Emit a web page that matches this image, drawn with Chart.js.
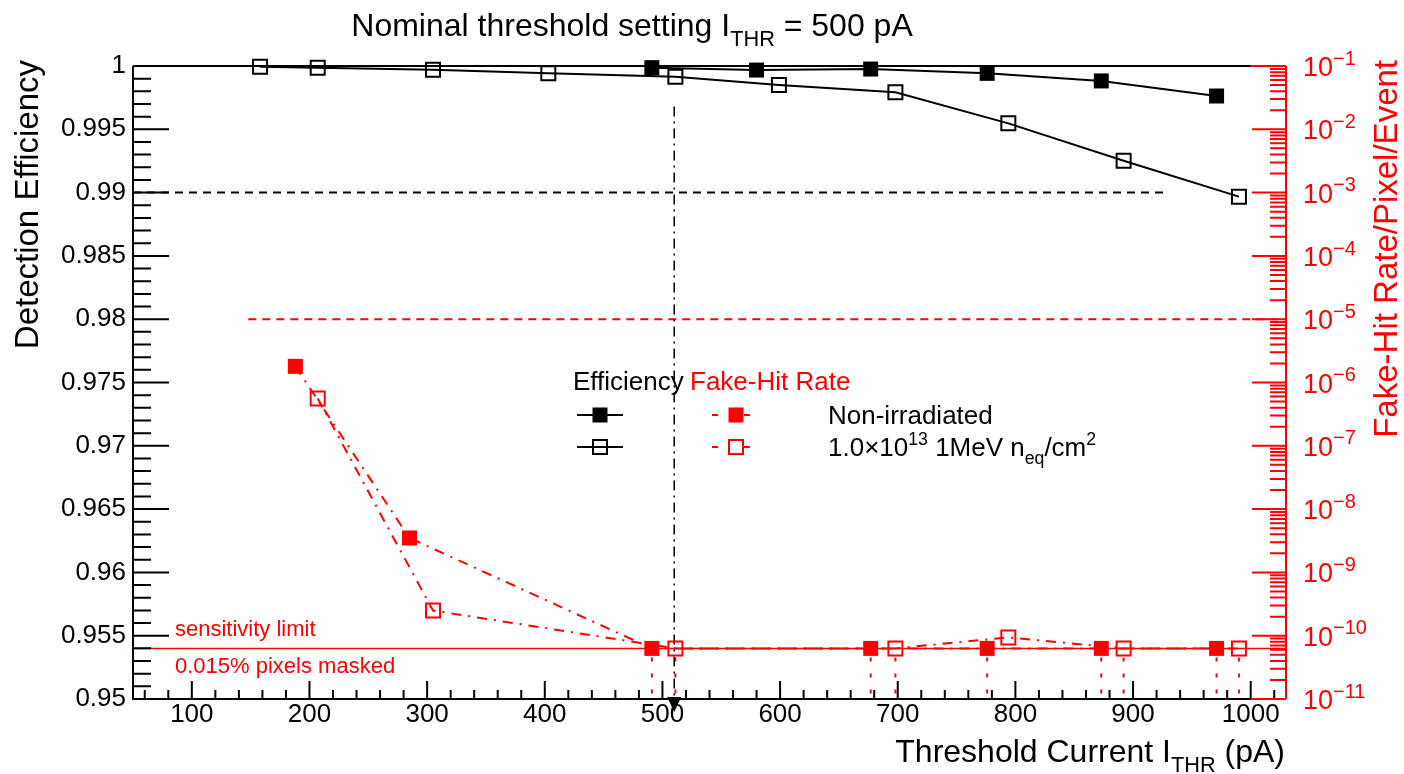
<!DOCTYPE html>
<html>
<head>
    <title>Detection efficiency and fake-hit rate vs threshold</title>
    <script src="https://cdn.jsdelivr.net/npm/chart.js@4.4.1/dist/chart.umd.min.js"></script>
    <style>
        body { margin: 0; background: #fff; }
        canvas { display: block; }
    </style>
</head>
<body>
    <canvas id="myChart" width="1404" height="774"></canvas>

    <script>
        // threshold current (pA) and values
        var effNonIrrX = [491, 580, 677, 776, 873, 971];
        var effNonIrr = [0.99987, 0.99968, 0.99976, 0.99942, 0.99882, 0.99763];

        var effIrrX = [158, 207, 305, 403, 511, 599, 698, 794, 892, 990];
        var effIrr = [0.99995, 0.99987, 0.9997, 0.99942, 0.99916, 0.9985, 0.99792, 0.99547, 0.99252, 0.98968];

        var fakeNonIrrX = [188, 285, 491, 677, 776, 873, 971];
        var fakeNonIrr = [1.8e-6, 3.5e-9, 6.3e-11, 6.3e-11, 6.3e-11, 6.3e-11, 6.3e-11];

        var fakeIrrX = [207, 305, 511, 698, 794, 892, 990];
        var fakeIrr = [5.6e-7, 2.5e-10, 6.3e-11, 6.3e-11, 9.4e-11, 6.3e-11, 6.3e-11];

        var sensLimit = 6.3e-11;
        var effRef = 0.99;
        var fakeRef = 1e-5;
        var nominalX = 510;

        var xTicks = [100, 200, 300, 400, 500, 600, 700, 800, 900, 1000];
        var yTicks = [0.95, 0.955, 0.96, 0.965, 0.97, 0.975, 0.98, 0.985, 0.99, 0.995, 1];
        var y2Exp = [-11, -10, -9, -8, -7, -6, -5, -4, -3, -2, -1];

        var FONT = '"Liberation Sans", Arial, Helvetica, sans-serif';
        var RED = '#ff0000';

        function pts(xs, ys) {
            return xs.map(function (x, i) { return { x: x, y: ys[i] }; });
        }

        // text with sub/superscripts: parts = [[text, 'n'|'sub'|'sup'], ...]
        function richText(ctx, parts, x, y, size, align, color, small) {
            small = small || 0.68;
            var w = 0;
            parts.forEach(function (p) {
                var s = p[1] === 'n' ? size : size * small;
                ctx.font = s + 'px ' + FONT;
                w += ctx.measureText(p[0]).width;
            });
            var cx = align === 'right' ? x - w : (align === 'center' ? x - w / 2 : x);
            ctx.fillStyle = color;
            ctx.textAlign = 'left';
            ctx.textBaseline = 'alphabetic';
            parts.forEach(function (p) {
                var s = p[1] === 'n' ? size : size * small;
                var dy = p[1] === 'sub' ? size * 0.3 : (p[1] === 'sup' ? -size * 0.42 : 0);
                ctx.font = s + 'px ' + FONT;
                ctx.fillText(p[0], cx, y + dy);
                cx += ctx.measureText(p[0]).width;
            });
        }

        function marker(ctx, x, y, filled, color) {
            if (filled) {
                ctx.fillStyle = color;
                ctx.fillRect(x - 7.5, y - 7.5, 15, 15);
            } else {
                ctx.strokeStyle = color;
                ctx.lineWidth = 2;
                ctx.strokeRect(x - 7, y - 7, 14, 14);
            }
        }

        var rootStyle = {
            id: 'rootStyle',
            beforeDatasetsDraw: function (chart) {
                // downward limits of points sitting at the sensitivity limit
                var ctx = chart.ctx;
                var area = chart.chartArea;
                ctx.save();
                ctx.strokeStyle = RED;
                ctx.lineWidth = 2;
                ctx.setLineDash([4, 12]);
                [2, 3].forEach(function (di) {
                    var meta = chart.getDatasetMeta(di);
                    meta.data.forEach(function (el, i) {
                        if (chart.data.datasets[di].data[i].y <= sensLimit * 1.01) {
                            ctx.beginPath();
                            ctx.moveTo(el.x, el.y + 9);
                            ctx.lineTo(el.x, area.bottom);
                            ctx.stroke();
                        }
                    });
                });
                ctx.restore();
            },
            afterDraw: function (chart) {
                var ctx = chart.ctx;
                var a = chart.chartArea;
                var sx = chart.scales.x, sy = chart.scales.y, sy2 = chart.scales.y2;
                ctx.save();

                // frame
                ctx.strokeStyle = '#000';
                ctx.lineWidth = 2;
                ctx.beginPath();
                ctx.moveTo(a.left, a.top);
                ctx.lineTo(a.right, a.top);
                ctx.moveTo(a.left, a.top);
                ctx.lineTo(a.left, a.bottom);
                ctx.lineTo(a.right, a.bottom);
                ctx.stroke();

                // x ticks (major 100, minor 20)
                ctx.beginPath();
                for (var v = 60; v <= 1030; v += 20) {
                    var px = sx.getPixelForValue(v);
                    var len = v % 100 === 0 ? 18 : 9;
                    ctx.moveTo(px, a.bottom);
                    ctx.lineTo(px, a.bottom - len);
                }
                // left y ticks (major 0.005, minor 0.001)
                for (var k = 1; k < 50; k++) {
                    var py = sy.getPixelForValue(0.95 + k * 0.001);
                    var l2 = k % 5 === 0 ? 36 : 18;
                    ctx.moveTo(a.left, py);
                    ctx.lineTo(a.left + l2, py);
                }
                ctx.stroke();

                // right log axis in red
                ctx.strokeStyle = RED;
                ctx.beginPath();
                ctx.moveTo(a.right, a.top);
                ctx.lineTo(a.right, a.bottom);
                var x1000 = sx.getPixelForValue(1000);
                ctx.moveTo(x1000, a.top);
                ctx.lineTo(a.right, a.top);
                ctx.moveTo(x1000, a.bottom);
                ctx.lineTo(a.right, a.bottom);
                y2Exp.forEach(function (e) {
                    var yy = sy2.getPixelForValue(Math.pow(10, e));
                    ctx.moveTo(a.right, yy);
                    ctx.lineTo(a.right - 34, yy);
                    if (e < -1) {
                        for (var m = 2; m <= 9; m++) {
                            var ym = sy2.getPixelForValue(m * Math.pow(10, e));
                            ctx.moveTo(a.right, ym);
                            ctx.lineTo(a.right - 16, ym);
                        }
                    }
                });
                ctx.stroke();

                // right tick labels 10^n
                y2Exp.forEach(function (e) {
                    var yy = sy2.getPixelForValue(Math.pow(10, e));
                    richText(ctx, [['10', 'n'], ['\u2212' + (-e), 'sup']], 1303, yy + 10, 27, 'left', RED, 0.74);
                });

                // arrow marking the nominal threshold
                var ax = sx.getPixelForValue(nominalX);
                ctx.fillStyle = '#000';
                ctx.beginPath();
                ctx.moveTo(ax - 7, a.bottom - 2);
                ctx.lineTo(ax + 7, a.bottom - 2);
                ctx.lineTo(ax, a.bottom + 13);
                ctx.closePath();
                ctx.fill();

                // titles
                richText(ctx, [['Nominal threshold setting I', 'n'], ['THR', 'sub'], [' = 500 pA', 'n']], 632, 36, 32, 'center', '#000');
                richText(ctx, [['Threshold Current I', 'n'], ['THR', 'sub'], [' (pA)', 'n']], 1285, 762, 32, 'right', '#000');

                ctx.save();
                ctx.translate(29, 60);
                ctx.rotate(-Math.PI / 2);
                ctx.font = '33px ' + FONT;
                ctx.fillStyle = '#000';
                ctx.textAlign = 'right';
                ctx.textBaseline = 'middle';
                ctx.fillText('Detection Efficiency', 0, 0);
                ctx.restore();

                ctx.save();
                ctx.translate(1388, 60);
                ctx.rotate(-Math.PI / 2);
                ctx.font = '33px ' + FONT;
                ctx.fillStyle = RED;
                ctx.textAlign = 'right';
                ctx.textBaseline = 'middle';
                ctx.fillText('Fake-Hit Rate/Pixel/Event', 0, 0);
                ctx.restore();

                // annotations of the sensitivity line
                ctx.font = '22px ' + FONT;
                ctx.fillStyle = RED;
                ctx.textAlign = 'left';
                ctx.textBaseline = 'alphabetic';
                ctx.fillText('sensitivity limit', 175, 636);
                ctx.fillText('0.015% pixels masked', 175, 673);

                // legend
                ctx.font = '26px ' + FONT;
                ctx.fillStyle = '#000';
                ctx.fillText('Efficiency', 573, 390);
                ctx.fillStyle = RED;
                ctx.fillText('Fake-Hit Rate', 690, 390);

                [[415, true], [447, false]].forEach(function (row) {
                    var ry = row[0];
                    ctx.strokeStyle = '#000';
                    ctx.lineWidth = 2;
                    ctx.setLineDash([]);
                    ctx.beginPath();
                    ctx.moveTo(577, ry);
                    ctx.lineTo(623, ry);
                    ctx.stroke();
                    marker(ctx, 600, ry, row[1], '#000');
                    ctx.strokeStyle = RED;
                    ctx.beginPath();
                    ctx.moveTo(712, ry);
                    ctx.lineTo(718, ry);
                    ctx.moveTo(744, ry);
                    ctx.lineTo(750, ry);
                    ctx.stroke();
                    marker(ctx, 736, ry, row[1], RED);
                });
                richText(ctx, [['Non-irradiated', 'n']], 828, 424, 26, 'left', '#000');
                richText(ctx, [['1.0\u00d710', 'n'], ['13', 'sup'], [' 1MeV n', 'n'], ['eq', 'sub'], ['/cm', 'n'], ['2', 'sup']], 828, 456, 26, 'left', '#000');

                ctx.restore();
            }
        };

        var ctx = document.getElementById('myChart').getContext('2d');
        new Chart(ctx, {
            type: 'line',
            data: {
                datasets: [
                    {
                        label: 'Efficiency non-irradiated',
                        data: pts(effNonIrrX, effNonIrr),
                        yAxisID: 'y',
                        borderColor: '#000',
                        borderWidth: 2,
                        pointStyle: 'rect',
                        pointRadius: 10.6,
                        pointBackgroundColor: '#000',
                        pointBorderColor: '#000',
                        pointBorderWidth: 0,
                        order: 1
                    },
                    {
                        label: 'Efficiency irradiated',
                        data: pts(effIrrX, effIrr),
                        yAxisID: 'y',
                        borderColor: '#000',
                        borderWidth: 2,
                        pointStyle: 'rect',
                        pointRadius: 9.9,
                        pointBackgroundColor: 'transparent',
                        pointBorderColor: '#000',
                        pointBorderWidth: 2,
                        order: 2
                    },
                    {
                        label: 'Fake-hit rate non-irradiated',
                        data: pts(fakeNonIrrX, fakeNonIrr),
                        yAxisID: 'y2',
                        borderColor: RED,
                        borderWidth: 2,
                        borderDash: [10, 7, 2, 7],
                        pointStyle: 'rect',
                        pointRadius: 10.6,
                        pointBackgroundColor: RED,
                        pointBorderColor: RED,
                        pointBorderWidth: 0,
                        order: 3
                    },
                    {
                        label: 'Fake-hit rate irradiated',
                        data: pts(fakeIrrX, fakeIrr),
                        yAxisID: 'y2',
                        borderColor: RED,
                        borderWidth: 2,
                        borderDash: [10, 7, 2, 7],
                        pointStyle: 'rect',
                        pointRadius: 9.9,
                        pointBackgroundColor: 'transparent',
                        pointBorderColor: RED,
                        pointBorderWidth: 2,
                        order: 4
                    },
                    {
                        label: '99% efficiency',
                        data: [{ x: 50, y: effRef }, { x: 930, y: effRef }],
                        yAxisID: 'y',
                        borderColor: '#000',
                        borderWidth: 2,
                        borderDash: [8, 6],
                        pointRadius: 0,
                        order: 6
                    },
                    {
                        label: 'fake-hit reference',
                        data: [{ x: 148, y: fakeRef }, { x: 1030, y: fakeRef }],
                        yAxisID: 'y2',
                        borderColor: RED,
                        borderWidth: 2,
                        borderDash: [8, 6],
                        pointRadius: 0,
                        order: 7
                    },
                    {
                        label: 'sensitivity limit',
                        data: [{ x: 50, y: sensLimit }, { x: 1030, y: sensLimit }],
                        yAxisID: 'y2',
                        borderColor: RED,
                        borderWidth: 1.5,
                        pointRadius: 0,
                        order: 8
                    },
                    {
                        label: 'nominal threshold',
                        data: [{ x: nominalX, y: 0.9968 }, { x: nominalX, y: 0.95 }],
                        yAxisID: 'y',
                        borderColor: '#000',
                        borderWidth: 1.5,
                        borderDash: [10, 5, 2, 5],
                        pointRadius: 0,
                        order: 5
                    }
                ]
            },
            options: {
                responsive: false,
                animation: false,
                devicePixelRatio: 1,
                clip: false,
                layout: { padding: { top: 66, left: 0, right: 0, bottom: 0 } },
                plugins: {
                    legend: { display: false },
                    tooltip: { enabled: false }
                },
                scales: {
                    x: {
                        type: 'linear',
                        min: 50,
                        max: 1030,
                        afterBuildTicks: function (s) { s.ticks = xTicks.map(function (v) { return { value: v }; }); },
                        afterFit: function (s) { s.height = 75; },
                        grid: { display: false, drawTicks: false },
                        border: { display: false },
                        ticks: {
                            color: '#000', padding: 0, maxRotation: 0, autoSkip: false,
                            font: { family: FONT, size: 26 },
                            callback: function (v) { return String(v); }
                        }
                    },
                    y: {
                        type: 'linear',
                        position: 'left',
                        min: 0.95,
                        max: 1,
                        afterBuildTicks: function (s) { s.ticks = yTicks.map(function (v) { return { value: v }; }); },
                        afterFit: function (s) { s.width = 133; },
                        grid: { display: false, drawTicks: false },
                        border: { display: false },
                        ticks: {
                            color: '#000', padding: 7, autoSkip: false,
                            font: { family: FONT, size: 26 },
                            callback: function (v) { return String(+Number(v).toFixed(3)); }
                        }
                    },
                    y2: {
                        type: 'logarithmic',
                        position: 'right',
                        min: 1e-11,
                        max: 1e-1,
                        afterFit: function (s) { s.width = 118; },
                        grid: { display: false, drawTicks: false },
                        border: { display: false },
                        ticks: { display: false }
                    }
                }
            },
            plugins: [rootStyle]
        });
    </script>
</body>
</html>
